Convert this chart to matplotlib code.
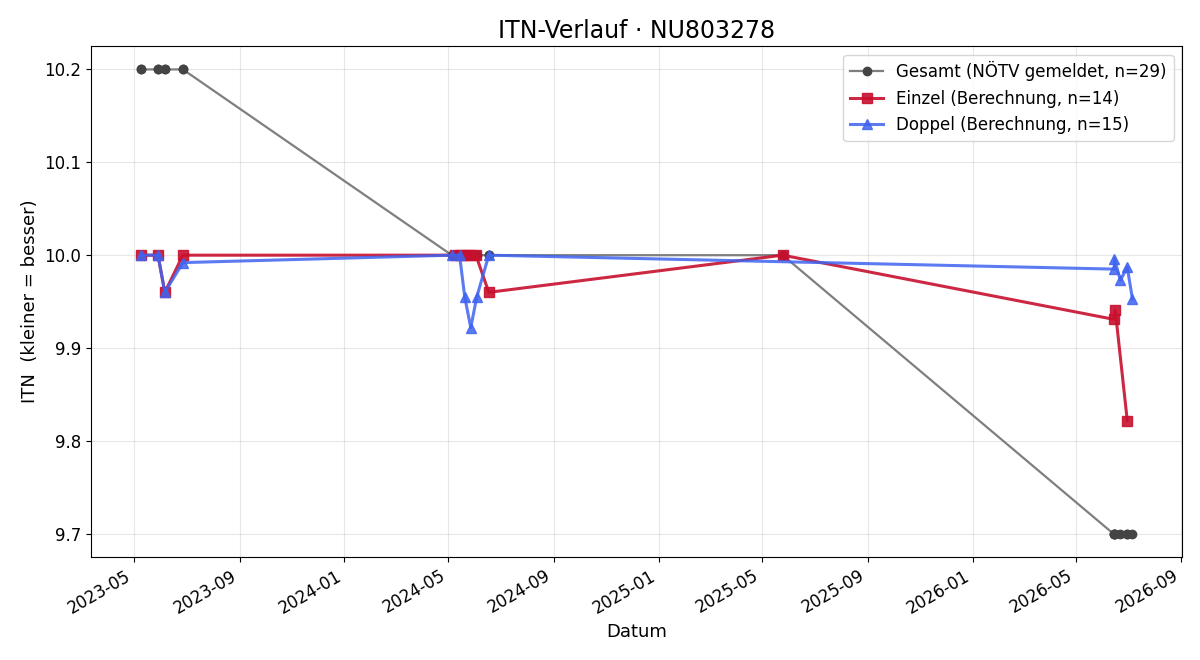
import matplotlib
matplotlib.use("Agg")
import matplotlib.pyplot as plt
import matplotlib.dates as mdates
import pandas as pd

# Einzel (Berechnung)
einzel_dates = ["2023-05-09", "2023-05-29", "2023-06-06", "2023-06-27",
                "2024-05-09", "2024-05-16", "2024-05-22", "2024-05-26", "2024-06-02",
                "2024-06-17", "2025-05-25",
                "2026-06-14", "2026-06-16", "2026-06-30"]
einzel_itn = [10.0, 10.0, 9.96, 10.0,
              10.0, 10.0, 10.0, 10.0, 10.0,
              9.96, 10.0,
              9.931, 9.941, 9.822]

# Doppel (Berechnung)
doppel_dates = ["2023-05-09", "2023-05-29", "2023-06-06", "2023-06-27",
                "2024-05-05", "2024-05-14", "2024-05-20", "2024-05-27", "2024-06-03",
                "2024-06-17",
                "2026-06-15", "2026-06-15", "2026-06-22", "2026-06-30", "2026-07-06"]
doppel_itn = [10.0, 10.0, 9.96, 9.992,
              10.0, 10.0, 9.955, 9.922, 9.955,
              10.0,
              9.985, 9.996, 9.973, 9.987, 9.953]

# Gesamt (NÖTV gemeldet)
gesamt_dates = ["2023-05-09", "2023-05-09", "2023-05-29", "2023-05-29",
                "2023-06-06", "2023-06-06", "2023-06-27", "2023-06-27",
                "2024-05-05", "2024-05-09", "2024-05-14", "2024-05-16", "2024-05-20",
                "2024-05-22", "2024-05-26", "2024-05-27", "2024-06-02", "2024-06-03",
                "2024-06-17", "2024-06-17",
                "2025-05-25",
                "2026-06-14", "2026-06-15", "2026-06-15", "2026-06-16", "2026-06-22",
                "2026-06-30", "2026-06-30", "2026-07-06"]
gesamt_itn = [10.2] * 8 + [10.0] * 12 + [10.0] + [9.7] * 8

fig, ax = plt.subplots(figsize=(12, 6.6), dpi=100)

ax.plot(pd.to_datetime(gesamt_dates), gesamt_itn, color="#7f7f7f", lw=1.6,
        marker="o", markersize=6, markerfacecolor="#444444", markeredgecolor="#444444",
        label=f"Gesamt (NÖTV gemeldet, n={len(gesamt_itn)})")
ax.plot(pd.to_datetime(einzel_dates), einzel_itn, color="#c8102e", lw=2.2, alpha=0.9,
        marker="s", markersize=7, label=f"Einzel (Berechnung, n={len(einzel_itn)})")
ax.plot(pd.to_datetime(doppel_dates), doppel_itn, color="#3f63f0", lw=2.2, alpha=0.85,
        marker="^", markersize=7, label=f"Doppel (Berechnung, n={len(doppel_itn)})")

ax.set_title("ITN-Verlauf · NU803278", fontsize=17)
ax.set_xlabel("Datum", fontsize=13)
ax.set_ylabel("ITN  (kleiner = besser)", fontsize=13)
ax.grid(True, alpha=0.3)
ax.xaxis.set_major_locator(mdates.MonthLocator(bymonth=[1, 5, 9]))
ax.xaxis.set_major_formatter(mdates.DateFormatter("%Y-%m"))
ax.tick_params(labelsize=12)
ax.legend(loc="upper right", fontsize=12)
fig.autofmt_xdate()

fig.subplots_adjust(left=0.076, right=0.985, top=0.930, bottom=0.156)
fig.savefig("out.png")
